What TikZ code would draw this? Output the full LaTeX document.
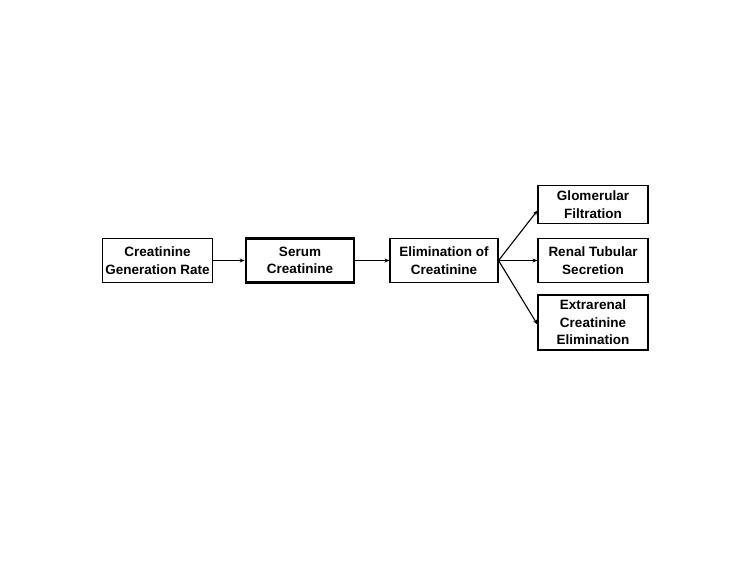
\documentclass[tikz,border=0pt]{standalone}
\usepackage{fontspec}
\setmainfont{Liberation Sans}
\usetikzlibrary{arrows.meta}
\begin{document}
\begin{tikzpicture}[x=1pt,y=-1pt,
  box/.style={draw=black,line width=1.1pt,fill=white,align=center,inner sep=0pt,
    font=\fontsize{13.5}{17.5}\selectfont\bfseries,minimum height=44pt},
  thickbox/.style={box,line width=2.8pt},
  conn/.style={draw=black,line width=1.1pt,-{Stealth[length=5pt,width=4pt]}}]
\useasboundingbox (0,0) rectangle (750,563);
\node[box,minimum width=110pt] (b1) at (157.5,260.5) {Creatinine\\Generation Rate};
\node[thickbox,minimum width=108pt,minimum height=44pt] (b2) at (300,260.5) {Serum\\Creatinine};
\node[box,minimum width=108pt] (b3) at (444,260.5) {Elimination of\\Creatinine};
\node[box,minimum width=110pt,minimum height=38pt] (b4) at (593,204.5) {Glomerular\\Filtration};
\node[box,minimum width=110pt] (b5) at (593,260.5) {Renal Tubular\\Secretion};
\node[box,minimum width=110pt,minimum height=55pt] (b6) at (593,322.5) {Extrarenal\\Creatinine\\Elimination};
\draw[conn] (b1) -- (b2);
\draw[conn] (b2) -- (b3);
\draw[conn] (b3.east) -- ([yshift=-6pt]b4.west);
\draw[conn] (b3.east) -- (b5.west);
\draw[conn] (b3.east) -- ([yshift=-2pt]b6.west);
\end{tikzpicture}
\end{document}
